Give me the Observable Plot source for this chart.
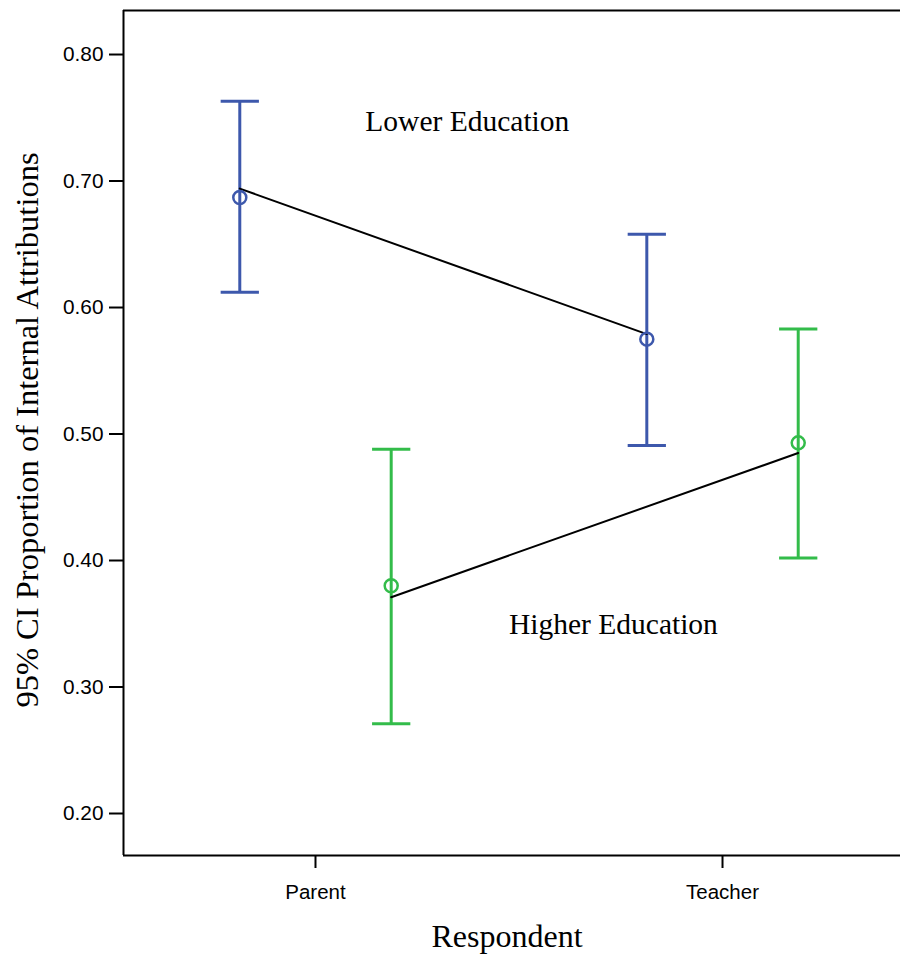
<!DOCTYPE html>
<html><head><meta charset="utf-8">
<script src="https://cdn.jsdelivr.net/npm/d3@7"></script>
<script src="https://cdn.jsdelivr.net/npm/@observablehq/plot@0.6"></script>
<style>body{margin:0;background:#fff}</style>
</head><body><div id="chart"></div>
<script>
// Categories
const respondents = ["Parent", "Teacher"];
const groups = ["Lower Education", "Higher Education"];
// Means and 95% CI bounds (per respondent)
const meanLower = [0.687, 0.575];
const lowLower = [0.612, 0.491];
const highLower = [0.763, 0.658];
const meanHigher = [0.380, 0.493];
const lowHigher = [0.271, 0.402];
const highHigher = [0.488, 0.583];
// Connecting lines drawn over the plot
const lineLower = [0.694, 0.579];
const lineHigher = [0.371, 0.485];
// Axis ticks
const yTicks = [0.20, 0.30, 0.40, 0.50, 0.60, 0.70, 0.80];
// Annotation labels (data units)
const labelText = ["Lower Education", "Higher Education"];
const labelX = [0.373, 0.732];
const labelY = [0.747, 0.349];

const colors = {"Lower Education": "#3D58AC", "Higher Education": "#33BC4A"};
const dodge = {"Lower Education": -0.186, "Higher Education": 0.186};
const cap = 0.047;

const series = {
  "Lower Education": {mean: meanLower, lo: lowLower, hi: highLower, line: lineLower},
  "Higher Education": {mean: meanHigher, lo: lowHigher, hi: highHigher, line: lineHigher}
};
const rows = [];
for (const g of groups) {
  respondents.forEach((r, i) => {
    const s = series[g];
    rows.push({group: g, respondent: r, x: i + dodge[g], mean: s.mean[i], lo: s.lo[i], hi: s.hi[i], line: s.line[i]});
  });
}
const labels = labelText.map((t, i) => ({text: t, x: labelX[i], y: labelY[i]}));

const xDomain = [-0.4717, 1.4373];
const yDomain = [0.1668, 0.8348];

const chart = Plot.plot({
  width: 900,
  height: 954,
  marginLeft: 123,
  marginRight: 0,
  marginTop: 10,
  marginBottom: 99,
  x: {domain: xDomain},
  y: {domain: yDomain},
  style: {background: "#fff"},
  marks: [
    Plot.link(rows, {x1: "x", x2: "x", y1: "lo", y2: "hi", stroke: d => colors[d.group], strokeWidth: 3}),
    Plot.link(rows, {x1: d => d.x - cap, x2: d => d.x + cap, y1: "lo", y2: "lo", stroke: d => colors[d.group], strokeWidth: 3}),
    Plot.link(rows, {x1: d => d.x - cap, x2: d => d.x + cap, y1: "hi", y2: "hi", stroke: d => colors[d.group], strokeWidth: 3}),
    Plot.line(rows, {x: "x", y: "line", z: "group", stroke: "#000", strokeWidth: 2}),
    Plot.dot(rows, {x: "x", y: "mean", r: 6.5, stroke: d => colors[d.group], fill: "none", strokeWidth: 2.5}),
    Plot.text(labels, {x: "x", y: "y", text: "text", fontFamily: "Liberation Serif", fontSize: 29.5, fill: "#000"}),
    Plot.ruleX([xDomain[0]], {stroke: "#000", strokeWidth: 2}),
    Plot.ruleY([yDomain[0], yDomain[1]], {stroke: "#000", strokeWidth: 2}),
    Plot.axisY(yTicks, {tickSize: 14, tickPadding: 6, tickFormat: d3.format(".2f"), fontSize: 20.8, fontFamily: "Liberation Sans", fill: "#000", strokeWidth: 2, label: null}),
    Plot.axisX([0, 1], {tickSize: 13, tickPadding: 16, tickFormat: i => respondents[i], fontSize: 20.5, fontFamily: "Liberation Sans", fill: "#000", strokeWidth: 2, label: null}),
    Plot.text(["95% CI Proportion of Internal Attributions"], {frameAnchor: "left", textAnchor: "middle", rotate: -90, dx: -96, dy: -3, text: d => d, fontFamily: "Liberation Serif", fontSize: 32.5, fill: "#000"}),
    Plot.text(["Respondent"], {frameAnchor: "bottom", dx: -5, dy: 91, text: d => d, fontFamily: "Liberation Serif", fontSize: 32, fill: "#000"})
  ]
});
document.getElementById("chart").appendChild(chart);
</script>
</body></html>
